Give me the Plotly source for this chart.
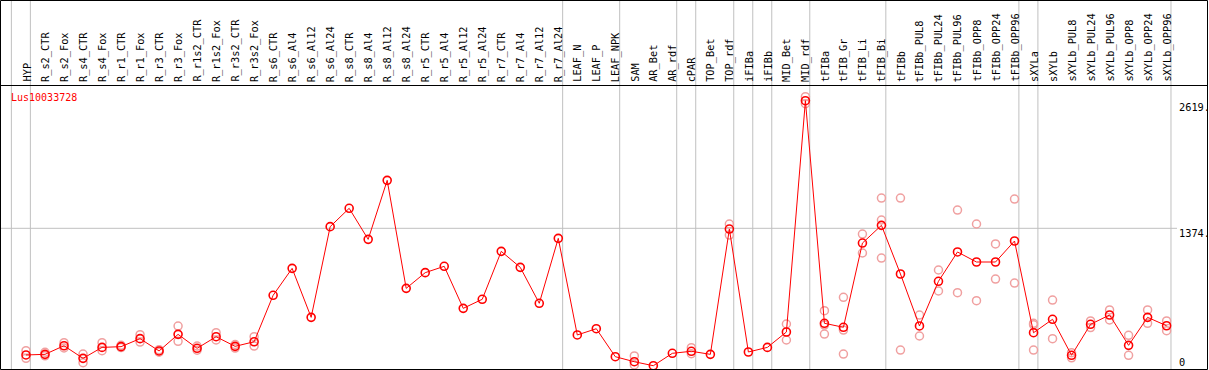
import plotly.graph_objects as go

categories = ["HYP", "R_s2_CTR", "R_s2_Fox", "R_s4_CTR", "R_s4_Fox", "R_r1_CTR", "R_r1_Fox",
              "R_r3_CTR", "R_r3_Fox", "R_r1s2_CTR", "R_r1s2_Fox", "R_r3s2_CTR", "R_r3s2_Fox",
              "R_s6_CTR", "R_s6_Al4", "R_s6_Al12", "R_s6_Al24", "R_s8_CTR", "R_s8_Al4",
              "R_s8_Al12", "R_s8_Al24", "R_r5_CTR", "R_r5_Al4", "R_r5_Al12", "R_r5_Al24",
              "R_r7_CTR", "R_r7_Al4", "R_r7_Al12", "R_r7_Al24", "LEAF_N", "LEAF_P", "LEAF_NPK",
              "SAM", "AR_Bet", "AR_rdf", "cPAR", "TOP_Bet", "TOP_rdf", "iFIBa", "iFIBb",
              "MID_Bet", "MID_rdf", "tFIBa", "tFIB_Gr", "tFIB_Li", "tFIB_Bi", "tFIBb",
              "tFIBb_PUL8", "tFIBb_PUL24", "tFIBb_PUL96", "tFIBb_OPP8", "tFIBb_OPP24",
              "tFIBb_OPP96", "sXYLa", "sXYLb", "sXYLb_PUL8", "sXYLb_PUL24", "sXYLb_PUL96",
              "sXYLb_OPP8", "sXYLb_OPP24", "sXYLb_OPP96"]

mean_values = [138, 144, 228, 105, 212, 219, 297, 177, 339, 203, 316, 222, 267,
               720, 983, 505, 1390, 1569, 1266, 1842, 788, 941, 1003, 593, 681,
               1149, 993, 642, 1276, 333, 394, 121, 72, 33, 154, 174, 144, 1367,
               167, 212, 362, 2619, 447, 408, 1230, 1403, 928, 421, 857, 1143,
               1045, 1045, 1250, 355, 486, 135, 437, 528, 232, 505, 423]

replicates = [[180, 105], [164, 130], [258, 206], [147, 63], [258, 180], [232, 210],
              [336, 264], [190, 165], [420, 271], [225, 185], [355, 284], [240, 205],
              [316, 225], [], [], [], [], [], [], [], [], [], [], [], [], [], [], [], [],
              [], [], [], [128, 40], [], [], [209, 150], [], [1416, 1308], [], [],
              [440, 284], [2658, 2590], [570, 430, 342], [700, 381, 147], [1318, 1133],
              [1669, 1455, 1084], [1669, 186], [528, 323], [967, 762], [1552, 746],
              [1416, 668], [1221, 879], [1659, 840], [447, 432, 186], [674, 297],
              [160, 110], [470, 405], [577, 479], [330, 135], [577, 447], [470, 375]]

separator_after = [-1, 0, 28, 31, 34, 35, 37, 38, 39, 41, 45, 52, 53, 60]
tick_values = [2619, 1374, 0]
tick_labels = ["2619.", "1374.", "0"]
gene_name = "Lus10033728"

W, H = 1209, 370
PX_PER_CAT = 19.01
X0_PX = 26.0
Y0_PX = 369.1
UNITS_PER_PX = 1374 / (369.1 - 228.3)

x_range = [-X0_PX / PX_PER_CAT, (W - X0_PX) / PX_PER_CAT]
y_range = [-(H - Y0_PX) * UNITS_PER_PX, Y0_PX * UNITS_PER_PX]

def py(px):
    return 1 - px / H

def pxx(px):
    return px / W

idx = list(range(len(categories)))
rx, ry = [], []
for i, reps in enumerate(replicates):
    for v in reps:
        rx.append(i)
        ry.append(v)

fig = go.Figure()
fig.add_trace(go.Scatter(x=rx, y=ry, mode="markers",
                         marker=dict(symbol="circle-open", size=8, color="#f0a0a0",
                                     line=dict(width=1.5, color="#f0a0a0")),
                         hoverinfo="y", showlegend=False))
fig.add_trace(go.Scatter(x=idx, y=mean_values, mode="lines+markers",
                         line=dict(color="#ff0000", width=1),
                         marker=dict(symbol="circle-open", size=8, color="#ff0000",
                                     line=dict(width=1.6, color="#ff0000")),
                         text=categories, hoverinfo="text+y", showlegend=False))

shapes = []
for s in separator_after:
    xs = s + 0.23
    shapes.append(dict(type="line", xref="x", yref="paper", x0=xs, x1=xs, y0=py(369), y1=1,
                       line=dict(color="#c0c0c0", width=1), layer="below"))
shapes.append(dict(type="line", xref="paper", yref="y", x0=pxx(1), x1=pxx(1177),
                   y0=tick_values[1], y1=tick_values[1],
                   line=dict(color="#c0c0c0", width=1), layer="below"))
# frame and header separator
shapes.append(dict(type="rect", xref="paper", yref="paper", x0=pxx(0.5), x1=pxx(1207.5),
                   y0=py(369.5), y1=py(0.5), line=dict(color="black", width=1)))
shapes.append(dict(type="line", xref="paper", yref="paper", x0=pxx(0.5), x1=pxx(1207.5),
                   y0=py(85.5), y1=py(85.5), line=dict(color="black", width=1)))

annotations = []
for i, c in enumerate(categories):
    annotations.append(dict(x=i, xref="x", y=py(84), yref="paper", text=c, showarrow=False,
                            textangle=-90, xanchor="center", yanchor="bottom",
                            font=dict(family="DejaVu Sans Mono", size=10.3, color="black")))
yshifts = [-6, -4.5, 7]
for v, t, ys in zip(tick_values, tick_labels, yshifts):
    annotations.append(dict(x=pxx(1177), xref="paper", y=v, yref="y", yshift=ys, text=t,
                            showarrow=False, xanchor="left", yanchor="middle",
                            font=dict(family="DejaVu Sans Mono", size=10.3, color="black")))
annotations.append(dict(x=pxx(9), xref="paper", y=py(98), yref="paper", text=gene_name,
                        showarrow=False, xanchor="left", yanchor="middle",
                        font=dict(family="DejaVu Sans Mono", size=10, color="#ff0000")))

fig.update_layout(width=W, height=H, margin=dict(l=0, r=0, t=0, b=0, pad=0),
                  paper_bgcolor="white", plot_bgcolor="white",
                  xaxis=dict(range=x_range, visible=False, fixedrange=True),
                  yaxis=dict(range=y_range, visible=False, fixedrange=True),
                  shapes=shapes, annotations=annotations, showlegend=False)

fig.write_html("out.html", config={"displayModeBar": False},
               post_script="document.body.style.margin='0';")
